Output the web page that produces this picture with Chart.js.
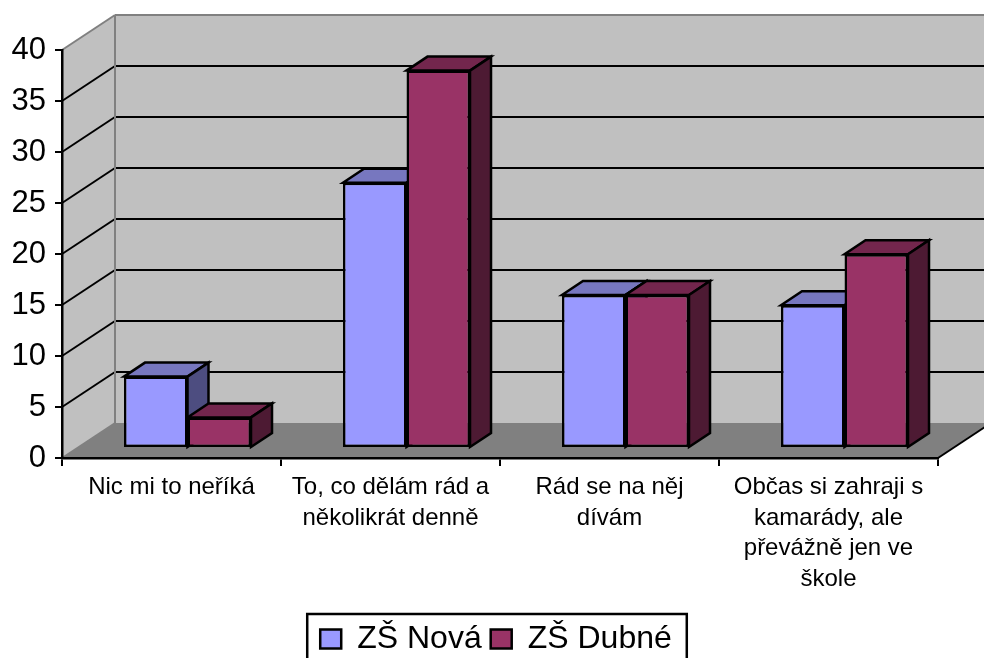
<!DOCTYPE html>
<html lang="cs">
<head>
<meta charset="utf-8">
<title>ZŠ Nová, ZŠ Dubné</title>
<style>
  html, body { margin: 0; padding: 0; background: #fff; overflow: hidden; }
  canvas { display: block; }
</style>
<script src="https://cdn.jsdelivr.net/npm/chart.js@4/dist/chart.umd.min.js"></script>
</head>
<body>
<canvas id="chart" width="984" height="658"></canvas>
<script>
const categories = [
  ["Nic mi to neříká"],
  ["To, co dělám rád a", "několikrát denně"],
  ["Rád se na něj", "dívám"],
  ["Občas si zahraji s", "kamarády, ale", "převážně jen ve", "škole"],
];
const novaValues = [7, 26, 15, 14];
const dubneValues = [3, 37, 15, 19];
const seriesNames = ["ZŠ Nová", "ZŠ Dubné"];

const FONT = "'Liberation Sans', Arial, sans-serif";
const WALL = "#c0c0c0";
const FLOOR = "#808080";

// oblique offsets of the fake 3D box
const WALL_DX = 53;
const WALL_DY = 35;
const BAR_SHIFT_X = 16;
const BAR_SHIFT_Y = 10;
const BAR_DX = 21;
const BAR_DY = 14;
const LEGEND_SHIFT_X = 27;

function poly(ctx, pts, fill, stroke, width) {
  ctx.beginPath();
  pts.forEach((p, i) => (i ? ctx.lineTo(p[0], p[1]) : ctx.moveTo(p[0], p[1])));
  ctx.closePath();
  if (fill) {
    ctx.fillStyle = fill;
    ctx.fill();
  }
  if (stroke) {
    ctx.strokeStyle = stroke;
    ctx.lineWidth = width;
    ctx.lineJoin = "miter";
    ctx.stroke();
  }
}

function line(ctx, x1, y1, x2, y2, color, width) {
  ctx.beginPath();
  ctx.moveTo(x1, y1);
  ctx.lineTo(x2, y2);
  ctx.strokeStyle = color;
  ctx.lineWidth = width;
  ctx.stroke();
}

const box3d = {
  id: "box3d",
  afterLayout(chart) {
    chart.legend.left += LEGEND_SHIFT_X;
    chart.legend.right += LEGEND_SHIFT_X;
  },
  // bars stand a little behind the front edge of the floor
  afterDatasetsUpdate(chart) {
    chart.data.datasets.forEach((_, i) => {
      chart.getDatasetMeta(i).data.forEach((bar) => {
        bar.x += BAR_SHIFT_X;
        bar.y -= BAR_SHIFT_Y;
        bar.base -= BAR_SHIFT_Y;
      });
    });
  },
  beforeDraw(chart) {
    const { ctx, chartArea: a, scales } = chart;
    const y = scales.y;
    const dx = WALL_DX;
    const dy = WALL_DY;
    ctx.save();
    poly(ctx, [[a.left, a.top], [a.left + dx, a.top - dy], [a.left + dx, a.bottom - dy], [a.left, a.bottom]], WALL);
    poly(ctx, [[a.left + dx, a.top - dy], [a.right + dx, a.top - dy], [a.right + dx, a.bottom - dy], [a.left + dx, a.bottom - dy]], WALL);
    poly(ctx, [[a.left, a.bottom], [a.right, a.bottom], [a.right + dx, a.bottom - dy], [a.left + dx, a.bottom - dy]], FLOOR);

    y.ticks.forEach((t) => {
      if (t.value <= y.min || t.value >= y.max) return;
      const py = y.getPixelForValue(t.value);
      line(ctx, a.left, py, a.left + dx, py - dy, "#000", 2);
      line(ctx, a.left + dx, py - dy, a.right + dx, py - dy, "#000", 2);
    });

    line(ctx, a.left, a.top, a.left + dx, a.top - dy, FLOOR, 2);
    line(ctx, a.left + dx, a.top - dy, a.right + dx, a.top - dy, FLOOR, 2);
    line(ctx, a.left + dx, a.top - dy, a.left + dx, a.bottom - dy, FLOOR, 2);
    line(ctx, a.left, a.bottom, a.left + dx, a.bottom - dy, FLOOR, 1.5);
    line(ctx, a.right, a.bottom, a.right + dx, a.bottom - dy, "#000", 2);
    ctx.restore();
  },
  beforeDatasetsDraw(chart) {
    const { ctx } = chart;
    ctx.save();
    chart.data.datasets.forEach((ds, i) => {
      chart.getDatasetMeta(i).data.forEach((bar) => {
        const l = bar.x - bar.width / 2;
        const r = bar.x + bar.width / 2;
        const t = bar.y;
        const b = bar.base;
        const top = [[l, t], [r, t], [r + BAR_DX, t - BAR_DY], [l + BAR_DX, t - BAR_DY]];
        const side = [[r, t], [r + BAR_DX, t - BAR_DY], [r + BAR_DX, b - BAR_DY], [r, b]];
        poly(ctx, top, ds.topColor, "#000", 2.5);
        poly(ctx, side, ds.sideColor, "#000", 2.5);
      });
    });
    ctx.restore();
  },
  // frame around the legend, its lower edge runs off the page
  afterDraw(chart) {
    const { ctx, legend } = chart;
    const boxes = legend.legendHitBoxes;
    if (!boxes.length) return;
    const left = boxes[0].left - 13;
    const last = boxes[boxes.length - 1];
    const right = last.left + last.width + 15;
    ctx.save();
    ctx.strokeStyle = "#000";
    ctx.lineWidth = 2.5;
    ctx.strokeRect(left, legend.top, right - left, legend.height);
    ctx.restore();
  },
};

new Chart(document.getElementById("chart"), {
  type: "bar",
  plugins: [box3d],
  data: {
    labels: categories,
    datasets: [
      {
        label: seriesNames[0],
        data: novaValues,
        backgroundColor: "#9999ff",
        topColor: "#7777bf",
        sideColor: "#4d4d80",
      },
      {
        label: seriesNames[1],
        data: dubneValues,
        backgroundColor: "#993366",
        topColor: "#73264d",
        sideColor: "#4d1a33",
      },
    ],
  },
  options: {
    responsive: false,
    animation: false,
    layout: { padding: { top: 50, right: 46, bottom: -7, left: 0 } },
    datasets: {
      bar: {
        borderColor: "#000",
        borderWidth: 2.5,
        borderSkipped: false,
        inflateAmount: 0,
        barPercentage: 1,
        categoryPercentage: 0.58,
      },
    },
    plugins: {
      tooltip: { enabled: false },
      title: { display: false },
      legend: {
        position: "bottom",
        labels: {
          color: "#000",
          font: { family: FONT, size: 32 },
          boxWidth: 21,
          boxHeight: 19,
          padding: 9,
        },
      },
    },
    scales: {
      x: {
        afterFit(scale) {
          scale.height = 156;
        },
        border: { color: "#000", width: 2.5 },
        grid: { drawOnChartArea: false, color: "#000", lineWidth: 2, tickLength: 8 },
        ticks: {
          color: "#000",
          font: { family: FONT, size: 24, lineHeight: 1.28 },
          autoSkip: false,
          maxRotation: 0,
          padding: 6,
        },
      },
      y: {
        min: 0,
        max: 40,
        afterFit(scale) {
          scale.width = 62;
        },
        border: { color: "#000", width: 2.5 },
        grid: { drawOnChartArea: false, color: "#000", lineWidth: 2, tickLength: 7 },
        ticks: {
          color: "#000",
          stepSize: 5,
          font: { family: FONT, size: 31 },
          padding: 9,
        },
      },
    },
  },
});
</script>
</body>
</html>
